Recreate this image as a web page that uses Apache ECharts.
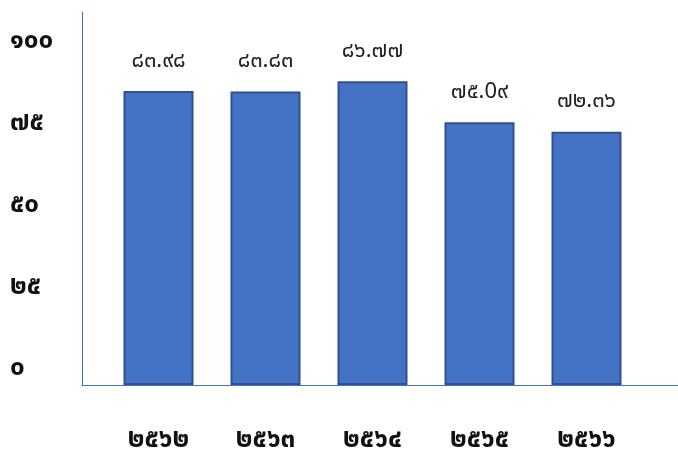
<!DOCTYPE html>
<html>
<head>
<meta charset="utf-8">
<script src="https://cdn.jsdelivr.net/npm/echarts@6/dist/echarts.min.js"></script>
<style>html,body{margin:0;padding:0;background:#fff}#c{width:678px;height:462px}</style>
</head>
<body>
<div id="c"></div>
<script>
const categories = ['๒๕๖๒', '๒๕๖๓', '๒๕๖๔', '๒๕๖๕', '๒๕๖๖'];
const values = [83.98, 83.83, 86.77, 75.09, 72.36];
const valueLabels = ['๘๓.๙๘', '๘๓.๘๓', '๘๖.๗๗', '๗๕.0๙', '๗๒.๓๖'];
const tickLabels = {0: '๐', 25: '๒๕', 50: '๕๐', 75: '๗๕', 100: '๑๐๐'};

const FONT = '"Noto Sans Thai", "Noto Sans", "DejaVu Sans", sans-serif';
const chart = echarts.init(document.getElementById('c'));
chart.setOption({
  animation: false,
  backgroundColor: '#fff',
  grid: [
    {left: 105, right: 38, top: 35, bottom: 77},
    {left: 82, right: 0, top: 12, bottom: 77},
    {left: 82, right: 0, top: 43, bottom: 92}
  ],
  xAxis: [
    {gridIndex: 0, type: 'category', data: categories,
     axisLine: {show: false}, axisTick: {show: false},
     axisLabel: {margin: 44, fontSize: 26, fontWeight: 'bold', color: '#111', fontFamily: FONT}},
    {gridIndex: 1, type: 'value', min: 0, max: 1,
     axisLine: {show: true, lineStyle: {color: '#4472C4', width: 1}},
     axisTick: {show: false}, axisLabel: {show: false}, splitLine: {show: false}},
    {gridIndex: 2, type: 'value', min: 0, max: 1, show: false}
  ],
  yAxis: [
    {gridIndex: 0, type: 'value', min: 0, max: 100, show: false},
    {gridIndex: 1, type: 'value', min: 0, max: 1,
     axisLine: {show: true, lineStyle: {color: '#4472C4', width: 1}},
     axisTick: {show: false}, axisLabel: {show: false}, splitLine: {show: false}},
    {gridIndex: 2, type: 'value', min: 0, max: 100, interval: 25,
     axisLine: {show: false}, axisTick: {show: false}, splitLine: {show: false},
     axisLabel: {align: 'left', margin: 72, fontSize: 26, fontWeight: 'bold', color: '#111', fontFamily: FONT,
       formatter: v => tickLabels[v]}}
  ],
  series: [{
    type: 'bar', xAxisIndex: 0, yAxisIndex: 0,
    data: values, barWidth: 70,
    itemStyle: {color: '#4472C4', borderColor: '#2F528F', borderWidth: 2},
    label: {show: true, position: 'top', distance: 18, fontSize: 22, color: '#222', fontFamily: FONT,
      formatter: p => valueLabels[p.dataIndex]}
  }]
});
</script>
</body>
</html>
